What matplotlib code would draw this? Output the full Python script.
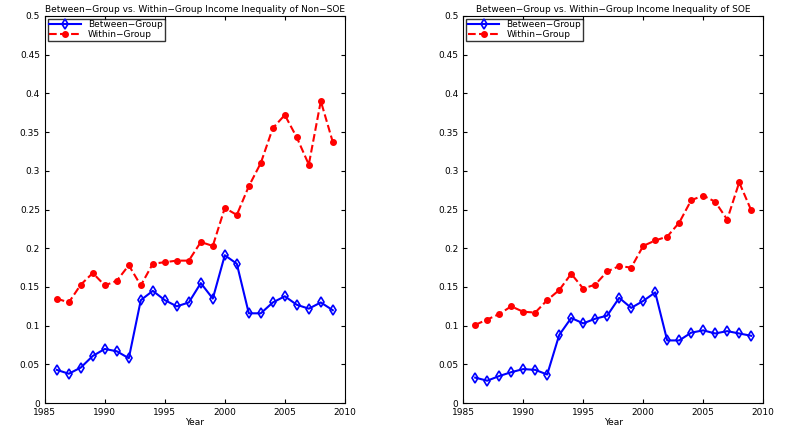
import numpy as np
import matplotlib.pyplot as plt

years = list(range(1986, 2010))

nonsoe_between = [0.043, 0.038, 0.046, 0.061, 0.070, 0.067, 0.058, 0.133, 0.145, 0.133, 0.125, 0.130,
                  0.155, 0.135, 0.191, 0.180, 0.116, 0.116, 0.130, 0.138, 0.127, 0.122, 0.130, 0.120]
nonsoe_within = [0.135, 0.130, 0.153, 0.168, 0.152, 0.158, 0.178, 0.152, 0.180, 0.182, 0.184, 0.184,
                 0.208, 0.203, 0.252, 0.243, 0.280, 0.310, 0.355, 0.372, 0.343, 0.308, 0.390, 0.337]
soe_between = [0.033, 0.029, 0.035, 0.040, 0.044, 0.043, 0.037, 0.088, 0.110, 0.103, 0.109, 0.113,
               0.136, 0.123, 0.132, 0.143, 0.081, 0.081, 0.091, 0.094, 0.090, 0.093, 0.090, 0.087]
soe_within = [0.101, 0.108, 0.115, 0.125, 0.118, 0.117, 0.133, 0.146, 0.167, 0.148, 0.153, 0.170,
              0.177, 0.175, 0.203, 0.210, 0.215, 0.233, 0.262, 0.268, 0.260, 0.237, 0.285, 0.249]

titles = ["Between\u2212Group vs. Within\u2212Group Income Inequality of Non\u2212SOE",
          "Between\u2212Group vs. Within\u2212Group Income Inequality of SOE"]

fig = plt.figure(figsize=(8, 4.28), dpi=100)
panels = [(0.056, nonsoe_between, nonsoe_within), (0.579, soe_between, soe_within)]

for i, (left, between, within) in enumerate(panels):
    ax = fig.add_axes([left, 0.058, 0.375, 0.905])
    ax.plot(years, between, "-", color="blue", lw=1.5, marker="d", ms=5,
            mfc="none", mew=1.2, label="Between\u2212Group")
    ax.plot(years, within, "--", color="red", lw=1.5, marker="o", ms=4,
            mfc="red", label="Within\u2212Group")
    ax.set_xlim(1985, 2010)
    ax.set_ylim(0, 0.5)
    ax.set_xticks([1985, 1990, 1995, 2000, 2005, 2010])
    ax.set_yticks(np.arange(0, 0.51, 0.05))
    ax.set_yticklabels(["0"] + [f"{v:.2f}".rstrip("0") for v in np.arange(0.05, 0.51, 0.05)])
    ax.tick_params(labelsize=6.5, direction="in", top=True, right=True, length=3)
    ax.set_xlabel("Year", fontsize=6.5, labelpad=1)
    ax.set_title(titles[i], fontsize=6.5, pad=3)
    ax.legend(loc="upper left", fontsize=6.5, frameon=True, fancybox=False,
              edgecolor="black", borderpad=0.2, labelspacing=0.1, handlelength=3.5,
              borderaxespad=0.3)

plt.savefig("out.png", dpi=100)
